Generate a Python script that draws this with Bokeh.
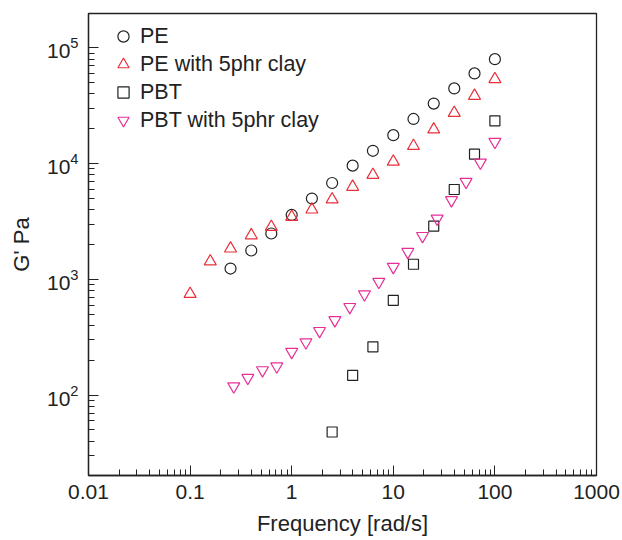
from bokeh.plotting import figure
from bokeh.models import Range1d, CustomJSTickFormatter, Legend, LegendItem, LogTicker
from bokeh.embed import file_html
from bokeh.resources import INLINE

# Data
pe_x = [0.25, 0.4, 0.63, 1, 1.58, 2.5, 3.98, 6.3, 10, 15.8, 25, 39.8, 63, 100]
pe_y = [1240, 1775, 2490, 3600, 4990, 6800, 9600, 12900, 17600, 24300, 33000, 44600, 60100, 79800]

pec_x = [0.1, 0.158, 0.25, 0.4, 0.63, 1, 1.58, 2.5, 3.98, 6.3, 10, 15.8, 25, 39.8, 63, 100]
pec_y = [748, 1430, 1845, 2400, 2840, 3460, 4010, 4900, 6300, 7980, 10400, 14200, 19700, 27400, 38500, 53600]

pbt_x = [2.5, 3.98, 6.3, 10, 15.8, 25, 39.8, 63, 100]
pbt_y = [48, 148, 261, 659, 1350, 2880, 5970, 12050, 23400]

pbtc_x = [0.269, 0.37, 0.516, 0.713, 1, 1.38, 1.88, 2.66, 3.73, 5.2, 7.2, 10, 13.9, 19.4, 27, 37.4, 52, 72, 100]
pbtc_y = [119, 141, 164, 177, 236, 286, 358, 444, 577, 743, 951, 1280, 1726, 2370, 3350, 4830, 6950, 10200, 15400]

labels = ["PE", "PE with 5phr clay", "PBT", "PBT with 5phr clay"]

FONT = "Liberation Sans"
BLACK = "#222222"
RED = "#e8303a"
MAGENTA = "#e62f96"

p = figure(width=622, height=540, x_axis_type="log", y_axis_type="log",
           x_range=Range1d(0.01, 1000), y_range=Range1d(20.2, 1.98e5),
           output_backend="svg", toolbar_location=None,
           min_border_left=88, min_border_right=26, min_border_top=13, min_border_bottom=65)

p.xgrid.visible = False
p.ygrid.visible = False
p.outline_line_color = BLACK
p.outline_line_width = 1.3

r1 = p.scatter(pe_x, pe_y, marker="circle", size=11, fill_color=None, line_color=BLACK, line_width=1.2)
r2 = p.scatter(pec_x, pec_y, marker="triangle", size=12, fill_color=None, line_color=RED, line_width=1.2)
r3 = p.scatter(pbt_x, pbt_y, marker="square", size=10, fill_color=None, line_color=BLACK, line_width=1.2)
r4 = p.scatter(pbtc_x, pbtc_y, marker="inverted_triangle", size=12, fill_color=None, line_color=MAGENTA, line_width=1.2)

for ax in (p.xaxis[0], p.yaxis[0]):
    ax.axis_line_color = BLACK
    ax.axis_line_width = 1.3
    ax.major_tick_in = 10
    ax.major_tick_out = 0
    ax.minor_tick_in = 6
    ax.minor_tick_out = 0
    ax.major_tick_line_color = BLACK
    ax.minor_tick_line_color = BLACK
    ax.major_label_text_font = FONT
    ax.major_label_text_font_size = "21px"
    ax.major_label_text_color = BLACK
    ax.axis_label_text_font = FONT
    ax.axis_label_text_font_size = "22px"
    ax.axis_label_text_font_style = "normal"
    ax.axis_label_text_color = BLACK

p.xaxis[0].ticker = LogTicker(num_minor_ticks=10)
p.yaxis[0].ticker = LogTicker(num_minor_ticks=10)
p.xaxis[0].formatter = CustomJSTickFormatter(code="return tick >= 1 ? tick.toFixed(0) : tick.toPrecision(1);")
p.xaxis[0].axis_label = "Frequency [rad/s]"
p.xaxis[0].major_label_standoff = 9
p.xaxis[0].axis_label_standoff = 9
p.yaxis[0].axis_label = "G' Pa"
p.yaxis[0].major_label_standoff = 10
p.yaxis[0].axis_label_standoff = 10

legend = Legend(items=[LegendItem(label=labels[0], renderers=[r1]),
                       LegendItem(label=labels[1], renderers=[r2]),
                       LegendItem(label=labels[2], renderers=[r3]),
                       LegendItem(label=labels[3], renderers=[r4])],
                location=(21, 341), border_line_color=None, background_fill_alpha=0,
                label_text_font=FONT, label_text_font_size="21.5px", label_text_color=BLACK,
                glyph_width=28, glyph_height=28, spacing=0, padding=0, margin=0,
                label_standoff=3)
p.add_layout(legend)

open("out.html", "w").write(file_html(p, INLINE))
